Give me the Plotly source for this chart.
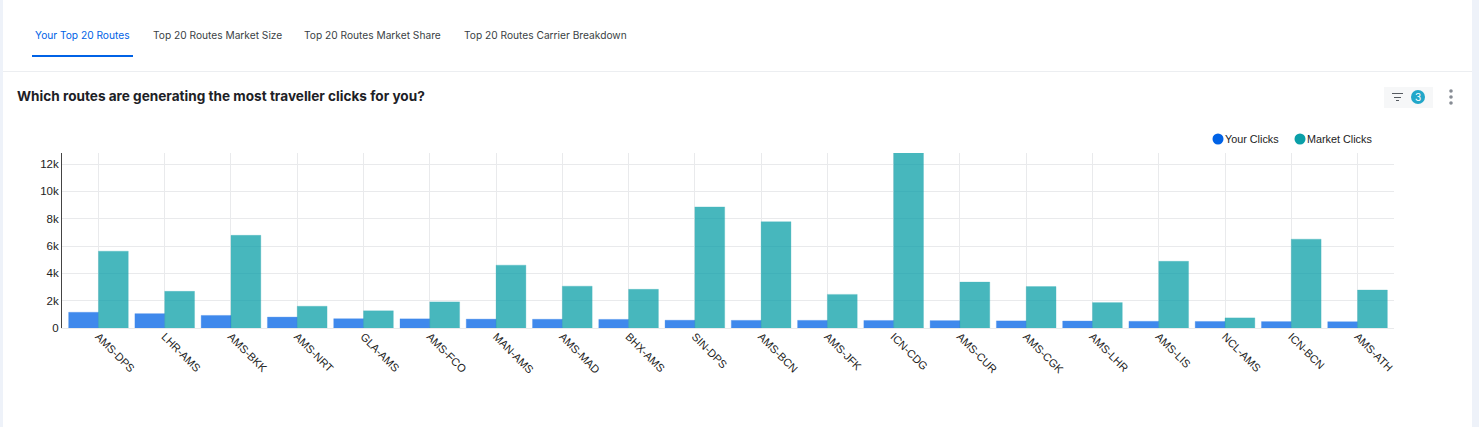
import plotly.graph_objects as go

routes = ["AMS-DPS", "LHR-AMS", "AMS-BKK", "AMS-NRT", "GLA-AMS", "AMS-FCO", "MAN-AMS", "AMS-MAD", "BHX-AMS", "SIN-DPS",
          "AMS-BCN", "AMS-JFK", "ICN-CDG", "AMS-CUR", "AMS-CGK", "AMS-LHR", "AMS-LIS", "NCL-AMS", "ICN-BCN", "AMS-ATH"]
your_clicks = [1150, 1050, 920, 800, 680, 670, 650, 640, 630, 570, 560, 560, 550, 540, 520, 510, 490, 480, 470, 460]
market_clicks = [5620, 2680, 6780, 1590, 1260, 1910, 4600, 3060, 2830, 8860, 7780, 2460, 12800, 3360, 3030, 1860, 4880, 740, 6500, 2780]
y_ticks = [0, 2000, 4000, 6000, 8000, 10000, 12000]
y_labels = ["0", "2k", "4k", "6k", "8k", "10k", "12k"]
tabs = ["Your Top 20 Routes", "Top 20 Routes Market Size", "Top 20 Routes Market Share", "Top 20 Routes Carrier Breakdown"]
tab_x = [33, 151, 302, 462]

W, H = 1479, 427
L, R, T, B = 62, 1394, 153, 328
BLUE = "#0062e6"
TEAL = "#0a9fa8"
UI_FONT = "Inter"


def xp(px):
    return (px - L) / (R - L)


def yp(py):
    return (B - py) / (B - T)


def rect(x0, y0, x1, y1, color):
    return dict(type="rect", xref="paper", yref="paper", x0=xp(x0), x1=xp(x1), y0=yp(y0), y1=yp(y1),
                fillcolor=color, line_width=0, layer="below")


def dot(cx, cy, r, color):
    return dict(type="circle", xref="paper", yref="paper", x0=xp(cx - r), x1=xp(cx + r), y0=yp(cy + r), y1=yp(cy - r),
                fillcolor=color, line_width=0, layer="above")


def label(x, y, text, size, color, font=UI_FONT, anchor="left"):
    return dict(xref="paper", yref="paper", x=xp(x), y=yp(y), text=text, showarrow=False, xanchor=anchor, yanchor="middle",
                font=dict(family=font, size=size, color=color))


fig = go.Figure()
fig.add_bar(x=routes, y=your_clicks, name="Your Clicks", opacity=0.75,
            marker=dict(color=BLUE, line=dict(color="rgba(0,98,230,0.3)", width=1)))
fig.add_bar(x=routes, y=market_clicks, name="Market Clicks", opacity=0.75,
            marker=dict(color=TEAL, line=dict(color="rgba(10,159,168,0.3)", width=1)))

shapes = [
    rect(3, 0, 1472, H, "#ffffff"),
    rect(32, 55, 133, 57, BLUE),
    rect(3, 71, 1472, 72, "#eceef1"),
    rect(1384, 87, 1433, 108, "#f6f7f8"),
    rect(1392, 93, 1403, 94, "#555a60"),
    rect(1394, 97, 1401, 98, "#555a60"),
    rect(1396, 100, 1399, 101, "#555a60"),
    dot(1418, 97, 7, "#22a7c9"),
    dot(1451, 91, 1.8, "#878c94"),
    dot(1451, 97, 1.8, "#878c94"),
    dot(1451, 103, 1.8, "#878c94"),
    dot(1218, 139, 5.5, BLUE),
    dot(1300, 139, 5.5, TEAL),
]

annotations = [label(x, 35, t, 10.2, BLUE if i == 0 else "#3a3f45") for i, (x, t) in enumerate(zip(tab_x, tabs))]
annotations += [
    label(15, 96, "<b>Which routes are generating the most traveller clicks for you?</b>", 13.6, "#1d2126"),
    label(1418, 97, "3", 10, "#ffffff", anchor="center"),
    label(1223, 139, "Your Clicks", 10.8, "#222222", "Liberation Sans"),
    label(1305, 139, "Market Clicks", 10.8, "#222222", "Liberation Sans"),
]

fig.update_layout(
    width=W, height=H,
    margin=dict(l=L, r=W - R, t=T, b=H - B, pad=0),
    barmode="group", bargap=0.1, bargroupgap=0,
    paper_bgcolor="#eef2f9", plot_bgcolor="rgba(0,0,0,0)",
    showlegend=False,
    shapes=shapes, annotations=annotations,
    font=dict(family="Liberation Sans", size=11, color="#222222"),
)
fig.update_xaxes(tickangle=45, range=[-0.55, 19.55], showgrid=True, gridcolor="#e9eaec", gridwidth=1,
                 showline=True, linecolor="#e9eaec", ticks="", zeroline=False, ticklabelstandoff=-3,
                 tickfont=dict(size=11, color="#222222"))
fig.update_yaxes(range=[0, 12805], tickvals=y_ticks, ticktext=y_labels, showgrid=True, gridcolor="#e9eaec", gridwidth=1,
                 showline=True, linecolor="#444444", linewidth=1, ticks="", zeroline=False, tickfont=dict(size=11.5, color="#222222"))

fig.write_html("out.html", config=dict(displayModeBar=False), post_script="document.body.style.margin='0';")
